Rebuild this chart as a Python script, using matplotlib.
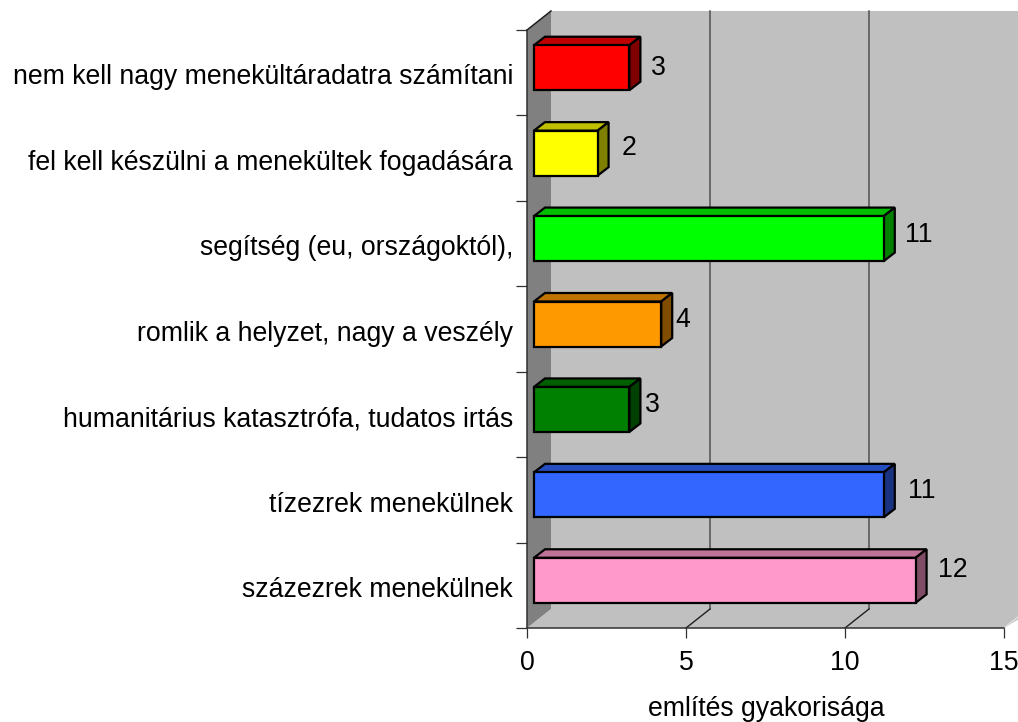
#!/usr/bin/env python3

import numpy as np
from matplotlib import pyplot as plt
from matplotlib.colors import to_rgb

### chart data
categories = ['nem kell nagy menekültáradatra számítani',
              'fel kell készülni a menekültek fogadására',
              'segítség (eu, országoktól),',
              'romlik a helyzet, nagy a veszély',
              'humanitárius katasztrófa, tudatos irtás',
              'tízezrek menekülnek',
              'százezrek menekülnek']
values = [3, 2, 11, 4, 3, 11, 12]
bar_colors = ['#ff0000', '#ffff00', '#00ff00', '#ff9900', '#008000', '#3366ff', '#ff99cc']
xticks = [0, 5, 10, 15]
xlabel = 'említés gyakorisága'

### layout, in pixels of the output picture
WIDTH, HEIGHT = 1018, 722
LEFT, RIGHT, TOP, BOTTOM = 527, 1004, 30, 628
WALL_DX, WALL_DY = 24, 19      # depth of the chart box
BAR_DX, BAR_DY = 11, 8.5       # depth of one bar
SHIFT_X, SHIFT_Y = 7, 5        # the bars sit a bit into the box
BAR_PX = 45
FONT = 19.2
# label nudges from the middle of the bar's right edge
label_dx = [22, 24, 21, 14, 16, 24, 22]
label_dy = [0, -5, -4, -4, -4, -4, -10]


def main():
    plt.rcParams['font.family'] = ['Liberation Sans', 'DejaVu Sans']
    fig = plt.figure(figsize=(WIDTH / 100, HEIGHT / 100), dpi=100)
    ax = fig.add_axes([LEFT / WIDTH, 1 - BOTTOM / HEIGHT,
                       (RIGHT - LEFT) / WIDTH, (BOTTOM - TOP) / HEIGHT])
    n = len(categories)
    ax.set_xlim(0, 15)
    ax.set_ylim(n, 0)
    ax.patch.set_visible(False)

    # pixels -> data units
    ux = 15 / (RIGHT - LEFT)
    uy = n / (BOTTOM - TOP)
    wx, wy = WALL_DX * ux, WALL_DY * uy
    bx, by = BAR_DX * ux, BAR_DY * uy
    off = SHIFT_X * ux
    far = 16

    # box: back wall, floor, left wall
    ax.fill([wx, far, far, wx], [-wy, -wy, n - wy, n - wy], color='#c0c0c0', lw=0, clip_on=False, zorder=0)
    ax.fill([0, wx, far, 15], [n, n - wy, n - wy, n], color='#c0c0c0', lw=0, clip_on=False, zorder=0)
    ax.fill([0, wx, wx, 0], [0, -wy, n - wy, n], color='#808080', lw=0, clip_on=False, zorder=1)
    ax.plot([0, wx], [0, -wy], color='#202020', lw=1.1, clip_on=False, zorder=2)
    ax.plot([15, far], [n, n - far_slope(wx, wy, far)], color='#e0e0e0', lw=1, clip_on=False, zorder=1)

    # grid on the wall and floor
    for x in xticks[1:3]:
        ax.plot([x + wx, x + wx], [-wy, n - wy], color='#505050', lw=1.1, clip_on=False, zorder=1)
        ax.plot([x, x + wx], [n, n - wy], color='#202020', lw=1, clip_on=False, zorder=1)

    # bars, front face first then the top and side of each one
    ypos = np.arange(n) + 0.5 - SHIFT_Y * uy
    h = BAR_PX * uy
    ax.barh(ypos, values, left=off, height=h, color=bar_colors,
            edgecolor='black', linewidth=1.6, zorder=5, clip_on=False)
    for y, v, c in zip(ypos, values, bar_colors):
        rgb = np.array(to_rgb(c))
        x0, x1 = off, off + v
        y0, y1 = y - h / 2, y + h / 2
        ax.fill([x0, x0 + bx, x1 + bx, x1], [y0, y0 - by, y0 - by, y0], facecolor=rgb * 0.75,
                edgecolor='black', lw=1.6, zorder=4, clip_on=False)
        ax.fill([x1, x1 + bx, x1 + bx, x1], [y0, y0 - by, y1 - by, y1], facecolor=rgb * 0.5,
                edgecolor='black', lw=1.6, zorder=4, clip_on=False)

    for y, v, dx, dy in zip(ypos, values, label_dx, label_dy):
        ax.annotate(str(v), (off + v, y), xytext=(dx, -dy), textcoords='offset pixels',
                    ha='left', va='center', fontsize=FONT, color='black', zorder=6,
                    annotation_clip=False)

    # axes
    for s in ['top', 'right']:
        ax.spines[s].set_visible(False)
    for s in ['left', 'bottom']:
        ax.spines[s].set_color('#303030')
        ax.spines[s].set_linewidth(1.1)
        ax.spines[s].set_zorder(3)
    ax.set_xticks(xticks)
    ax.tick_params(axis='x', length=7.5, width=0.9, color='#303030', pad=8, labelsize=FONT)
    ax.set_yticks(np.arange(n + 1))
    ax.set_yticklabels([])
    ax.tick_params(axis='y', which='major', length=8, width=0.9, color='#303030')
    ax.set_yticks(np.arange(n) + 0.52, labels=categories, minor=True)
    ax.tick_params(axis='y', which='minor', length=0, pad=10, labelsize=FONT)
    ax.set_xlabel(xlabel, fontsize=FONT, labelpad=16)
    ax.xaxis.set_label_coords((766 - LEFT) / (RIGHT - LEFT), -(709 - BOTTOM) / (BOTTOM - TOP))
    ax.xaxis.label.set_verticalalignment('center')

    fig.savefig('out.png', dpi=100)
    return 0


def far_slope(wx, wy, far):
    """ Rise of the floor edge between x=15 and the far end of the box """
    return wy * (far - 15) / wx


if __name__ == '__main__':
    main()
